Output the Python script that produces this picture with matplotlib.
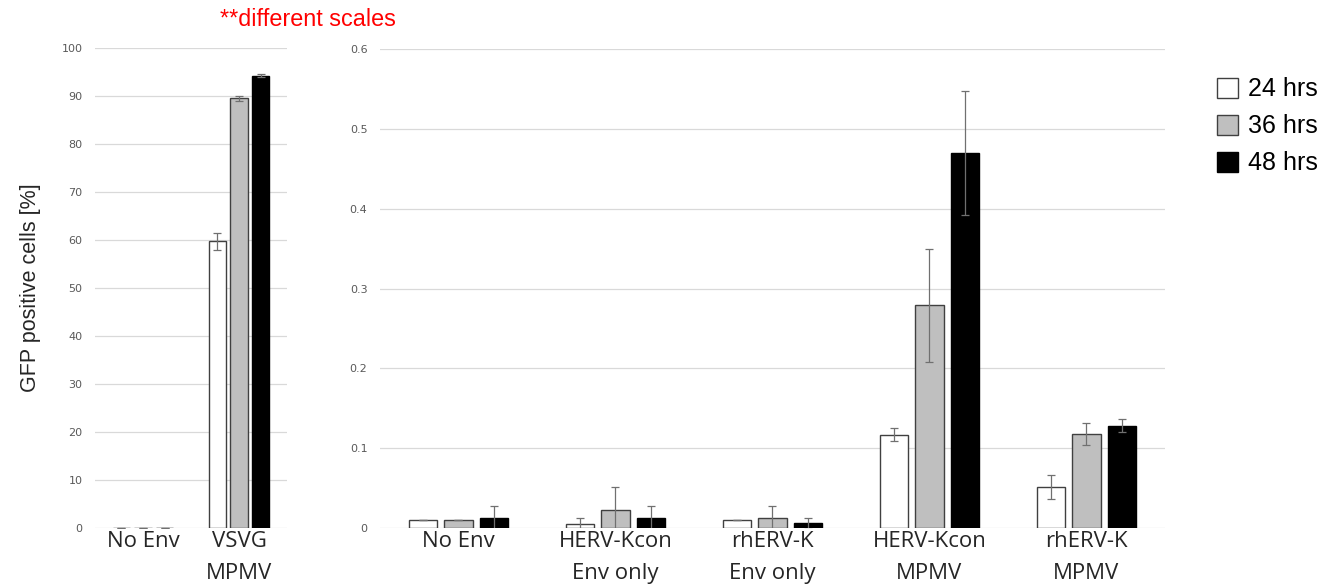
import matplotlib.pyplot as plt
import numpy as np

# GFP positive cells [%] at 24 / 36 / 48 hrs
left_groups = ['No Env', 'VSVG\nMPMV']
left_24 = [0.01, 59.7]
left_36 = [0.01, 89.5]
left_48 = [0.012, 94.2]
left_err_24 = [0, 1.8]
left_err_36 = [0, 0.6]
left_err_48 = [0.015, 0.3]

right_groups = ['No Env', 'HERV-Kcon\nEnv only', 'rhERV-K\nEnv only',
                'HERV-Kcon\nMPMV', 'rhERV-K\nMPMV']
right_24 = [0.010, 0.005, 0.010, 0.117, 0.051]
right_36 = [0.010, 0.022, 0.012, 0.279, 0.118]
right_48 = [0.012, 0.012, 0.006, 0.470, 0.128]
right_err_24 = [0, 0.007, 0, 0.008, 0.015]
right_err_36 = [0, 0.030, 0.015, 0.071, 0.014]
right_err_48 = [0.015, 0.015, 0.007, 0.078, 0.008]

labels = ['24 hrs', '36 hrs', '48 hrs']
fills = ['white', '#bfbfbf', 'black']
edges = ['#404040', '#404040', 'black']

fig = plt.figure(figsize=(13.36, 5.88), dpi=100)
ax1 = fig.add_axes([0.0711, 0.102, 0.1437, 0.8163])
ax2 = fig.add_axes([0.2844, 0.102, 0.5876, 0.8146])

barWidth = 0.18
step = 0.225


def draw(ax, groups, vals, errs, ymax, ystep, fmt):
    x = np.arange(len(groups)) + 0.5
    for i in range(3):
        ax.bar(x + (i - 1) * step, vals[i], width=barWidth, color=fills[i],
               edgecolor=edges[i], linewidth=1.0, label=labels[i], zorder=3)
        ax.errorbar(x + (i - 1) * step, vals[i], yerr=errs[i], fmt='none',
                    ecolor='#707070', elinewidth=0.9, capsize=3, capthick=0.9,
                    zorder=4)
    ax.set_xlim(0, len(groups))
    ax.set_ylim(0, ymax)
    ticks = np.arange(0, ymax + ystep / 2, ystep)
    ax.set_yticks(ticks)
    ax.set_yticklabels([fmt(v) for v in ticks], fontsize=8, color='#595959')
    ax.yaxis.grid(True, color='#d9d9d9', linewidth=0.9, zorder=0)
    ax.set_axisbelow(True)
    for s in ax.spines.values():
        s.set_visible(False)
    ax.tick_params(axis='both', length=0)
    ax.tick_params(axis='y', pad=9)
    ax.set_xticks(x)
    ax.set_xticklabels(groups, fontsize=16, family='Open Sans', color='#262626',
                       linespacing=1.72)
    ax.tick_params(axis='x', pad=2)


draw(ax1, left_groups, [left_24, left_36, left_48],
     [left_err_24, left_err_36, left_err_48], 100, 10, lambda v: '%d' % v)
draw(ax2, right_groups, [right_24, right_36, right_48],
     [right_err_24, right_err_36, right_err_48], 0.6, 0.1,
     lambda v: '0' if v == 0 else '%.1f' % v)

ax1.set_ylabel('GFP positive cells [%]', fontsize=15.5, family='Liberation Sans',
               color='#262626', labelpad=15)

fig.text(0.1647, 0.966, '**different scales', color='#ff0000', fontsize=16.8,
         family='Liberation Sans', va='center')

leg = ax2.legend(loc='upper left', bbox_to_anchor=(0.8938, 0.9065),
                 bbox_transform=fig.transFigure, frameon=False,
                 prop={'family': 'Liberation Sans', 'size': 18},
                 handlelength=0.85, handleheight=0.85, handletextpad=0.4,
                 labelspacing=0.52, borderpad=0.4)

plt.savefig('out.png', dpi=100)
